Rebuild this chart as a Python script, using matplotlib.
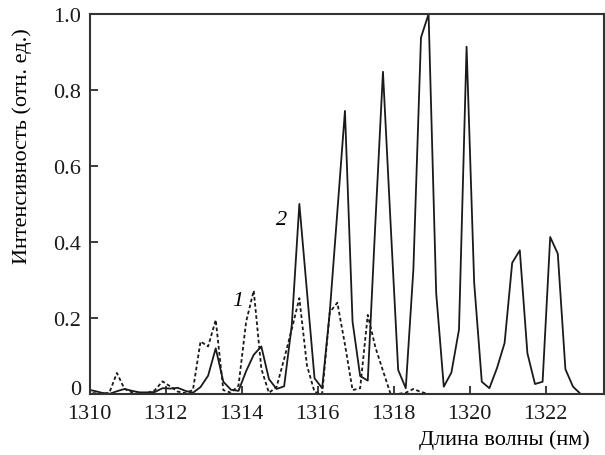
import matplotlib
matplotlib.use("Agg")
import matplotlib.pyplot as plt

plt.rcParams['font.family'] = ['Liberation Serif', 'DejaVu Serif']

# Sampled wavelengths (nm)
wavelength = [1309.92, 1310.12, 1310.32, 1310.52, 1310.72, 1310.92, 1311.12, 1311.32,
              1311.52, 1311.72, 1311.92, 1312.12, 1312.32, 1312.52, 1312.72, 1312.92,
              1313.12, 1313.32, 1313.52, 1313.72, 1313.92, 1314.12, 1314.32, 1314.52,
              1314.72, 1314.92, 1315.12, 1315.32, 1315.52, 1315.72, 1315.92, 1316.12,
              1316.32, 1316.52, 1316.72, 1316.92, 1317.12, 1317.32, 1317.52, 1317.72,
              1317.92, 1318.12, 1318.32, 1318.52, 1318.72, 1318.92, 1319.12, 1319.32,
              1319.52, 1319.72, 1319.92, 1320.12, 1320.32, 1320.52, 1320.72, 1320.92,
              1321.12, 1321.32, 1321.52, 1321.72, 1321.92, 1322.12, 1322.32, 1322.52,
              1322.72, 1322.92, 1323.12, 1323.32, 1323.52]

# Spectrum 2 (solid)
intensity_2 = [0.012, 0.008, 0.003, 0.0, 0.007, 0.013, 0.008, 0.004,
               0.004, 0.005, 0.015, 0.014, 0.016, 0.008, 0.003, 0.018,
               0.048, 0.12, 0.032, 0.011, 0.008, 0.06, 0.103, 0.125,
               0.039, 0.013, 0.02, 0.18, 0.50, 0.27, 0.041, 0.015,
               0.215, 0.48, 0.745, 0.19, 0.047, 0.035, 0.45, 0.848,
               0.45, 0.063, 0.015, 0.327, 0.938, 1.0, 0.266, 0.019,
               0.056, 0.169, 0.914, 0.292, 0.032, 0.015, 0.068, 0.134,
               0.345, 0.378, 0.107, 0.026, 0.032, 0.413, 0.369, 0.065,
               0.019, 0.0, 0.0, 0.0, 0.0]

# Spectrum 1 (dotted), recorded up to 1318.9 nm
wavelength_1 = wavelength[:46]
intensity_1 = [0.003, 0.002, 0.0, 0.003, 0.055, 0.013, 0.004, 0.0,
               0.002, 0.01, 0.033, 0.02, 0.006, 0.002, 0.01, 0.138,
               0.125, 0.195, 0.01, 0.003, 0.022, 0.19, 0.272, 0.066,
               0.003, 0.018, 0.092, 0.17, 0.252, 0.075, 0.005, 0.0,
               0.215, 0.24, 0.13, 0.01, 0.015, 0.208, 0.123, 0.061,
               0.0, 0.0, 0.003, 0.013, 0.005, 0.0]

x_ticks = [1310, 1312, 1314, 1316, 1318, 1320, 1322]
y_ticks = [0, 0.2, 0.4, 0.6, 0.8, 1.0]
y_tick_labels = ['0', '0.2', '0.4', '0.6', '0.8', '1.0']

fig = plt.figure(figsize=(6.05, 4.56), dpi=100)
ax = fig.add_axes([0.148, 0.134, 0.850, 0.833])

ax.plot(wavelength_1, intensity_1, color='#1a1a1a', lw=1.3, ls=(0, (2, 1.4)))
ax.plot(wavelength, intensity_2, color='#1a1a1a', lw=1.3)

ax.set_xlim(1310, 1323.53)
ax.set_ylim(0, 1.0)
ax.set_xticks(x_ticks)
ax.set_xticklabels([str(t) for t in x_ticks])
ax.set_yticks(y_ticks)
ax.set_yticklabels(y_tick_labels)
# the zero label rests on the x axis line
ax.get_yticklabels()[0].set_verticalalignment('baseline')

ax.tick_params(direction='in', length=6, width=1.2, labelsize=16,
               colors='#1a1a1a', top=False, right=False)
ax.tick_params(axis='x', pad=7)
ax.tick_params(axis='y', pad=6)
for s in ax.spines.values():
    s.set_linewidth(1.5)
    s.set_color('#333333')

ax.text(1313.9, 0.245, '1', fontsize=16, style='italic', ha='center', va='center')
ax.text(1315.05, 0.46, '2', fontsize=16, style='italic', ha='center', va='center')

fig.text(0.975, 0.035, 'Длина волны (нм)', fontsize=16, ha='right', va='center')
fig.text(0.036, 0.68, 'Интенсивность (отн. ед.)', fontsize=16, rotation=90,
         ha='center', va='center')

fig.savefig('out.png', dpi=100)
